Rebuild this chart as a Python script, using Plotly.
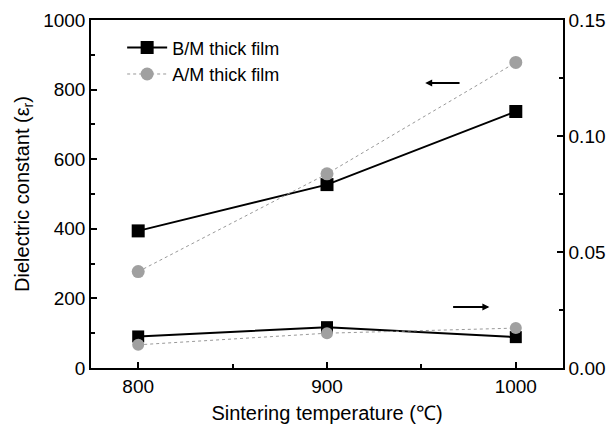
import plotly.graph_objects as go

temps = [800, 900, 1000]
bm_eps = [394, 527, 737]
am_eps = [277, 558, 878]
bm_loss = [0.0136, 0.0176, 0.0133]
am_loss = [0.0100, 0.0150, 0.0172]

FONT = "Liberation Sans, Arial, sans-serif"
fig = go.Figure()
fig.add_trace(go.Scatter(x=temps, y=bm_eps, mode="lines+markers", name="B/M thick film",
                         line=dict(color="black", width=2),
                         marker=dict(symbol="square", size=13, color="black")))
fig.add_trace(go.Scatter(x=temps, y=am_eps, mode="lines+markers", name="A/M thick film",
                         line=dict(color="#999999", width=1, dash="dot"),
                         marker=dict(symbol="circle", size=13, color="#a0a0a0")))
fig.add_trace(go.Scatter(x=temps, y=bm_loss, mode="lines+markers", yaxis="y2", showlegend=False,
                         line=dict(color="black", width=2),
                         marker=dict(symbol="square", size=12, color="black")))
fig.add_trace(go.Scatter(x=temps, y=am_loss, mode="lines+markers", yaxis="y2", showlegend=False,
                         line=dict(color="#999999", width=1, dash="dot"),
                         marker=dict(symbol="circle", size=12, color="#a0a0a0")))

fig.add_annotation(x=952, y=819, ax=971, ay=819, xref="x", yref="y", axref="x", ayref="y",
                   showarrow=True, arrowhead=2, arrowsize=0.7, arrowwidth=2, arrowcolor="black", text="")
fig.add_annotation(x=986, y=0.0263, ax=966, ay=0.0263, xref="x", yref="y2", axref="x", ayref="y2",
                   showarrow=True, arrowhead=2, arrowsize=0.7, arrowwidth=2, arrowcolor="black", text="")

axis_common = dict(showline=True, linecolor="black", linewidth=1.5, automargin=False,
                   ticks="inside", ticklen=6, tickwidth=1.5, tickcolor="black",
                   showgrid=False, zeroline=False,
                   tickfont=dict(family=FONT, size=19, color="black"))

# the page body has an 8px margin, so the figure is sized and offset to compensate
fig.update_layout(
    width=606, height=418,
    margin=dict(l=83, r=51, t=12, b=58),
    plot_bgcolor="white", paper_bgcolor="white",
    font=dict(family=FONT, color="black"),
    xaxis=dict(range=[775, 1025], tickvals=temps, mirror=True,
               minor=dict(ticks="inside", dtick=50, tick0=800, ticklen=4, tickcolor="black"),
               title=dict(text="Sintering temperature (℃)", font=dict(family=FONT, size=20), standoff=10),
               **axis_common),
    yaxis=dict(range=[0, 1000], dtick=200,
               minor=dict(ticks="inside", dtick=100, ticklen=4, tickcolor="black"),
               title=dict(text="Dielectric constant (ε<sub>r</sub>)", font=dict(family=FONT, size=20), standoff=8),
               **axis_common),
    yaxis2=dict(range=[0, 0.15], dtick=0.05, tickformat=".2f", overlaying="y", side="right",
                minor=dict(ticks="inside", dtick=0.025, ticklen=4, tickcolor="black"),
                **axis_common),
    legend=dict(x=0.066, y=0.973, xanchor="left", yanchor="top", bgcolor="rgba(0,0,0,0)",
                font=dict(family=FONT, size=18), itemwidth=40, tracegroupgap=0),
)
fig.write_html("out.html")
